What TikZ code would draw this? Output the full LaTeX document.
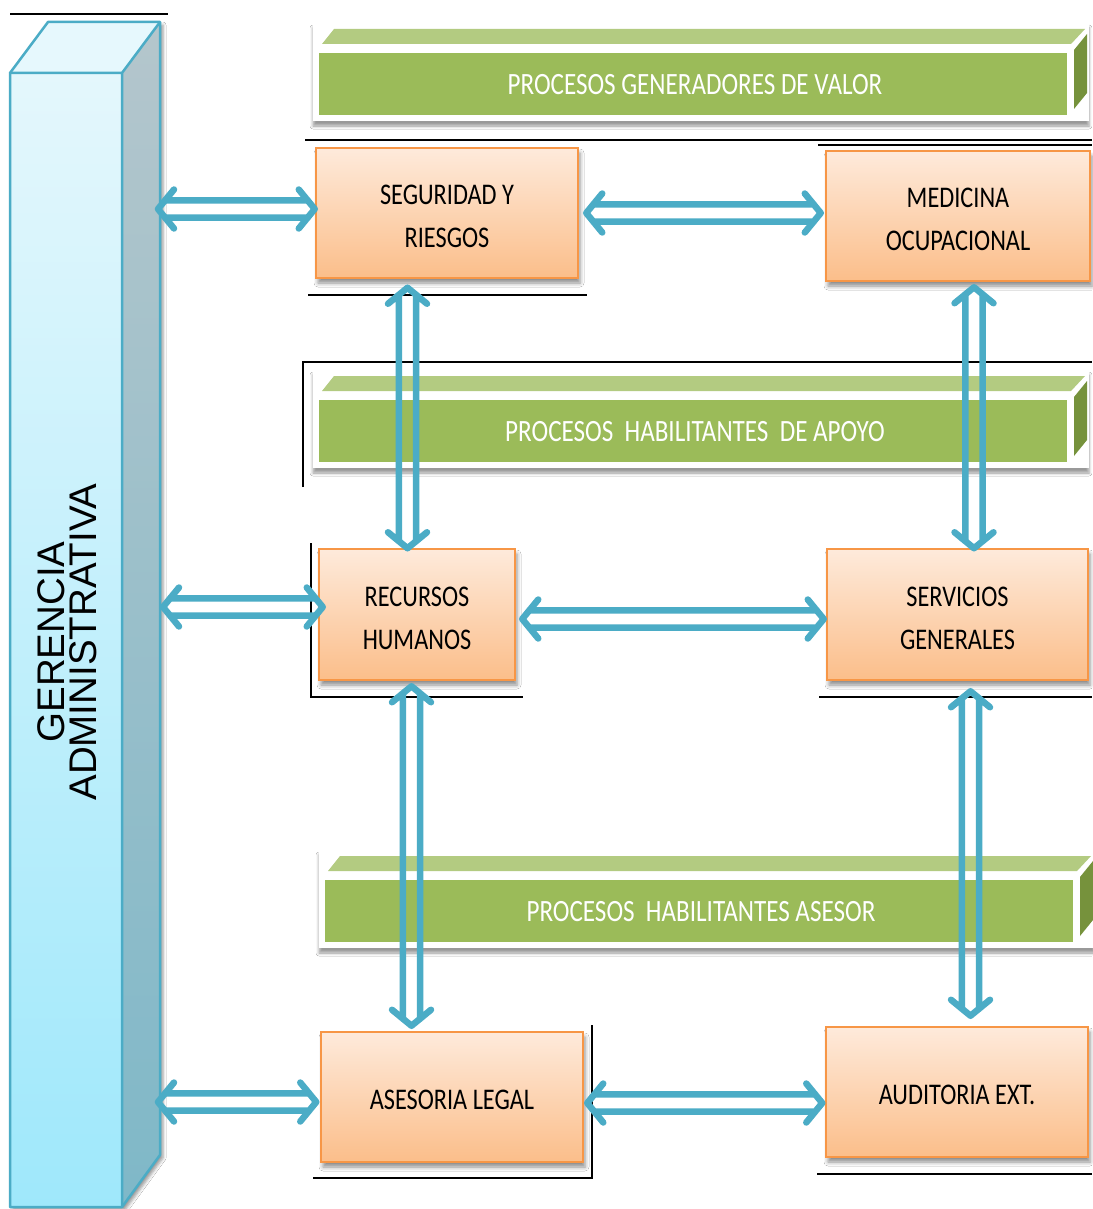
\documentclass[tikz,border=0pt]{standalone}
\usepackage{fontspec}
\setmainfont{Carlito}
\newfontfamily\arialf{Liberation Sans}
\usetikzlibrary{calc,shadows.blur}
\definecolor{arrowc}{HTML}{4BACC6}
\definecolor{obord}{HTML}{F79646}
\definecolor{otop}{HTML}{FEEADB}
\definecolor{obot}{HTML}{FBBE8A}
\definecolor{gfront}{HTML}{9BBB59}
\definecolor{gtopc}{HTML}{B3CB81}
\definecolor{gside}{HTML}{76923C}
\definecolor{cfronttop}{HTML}{E4F7FC}
\definecolor{cfrontbot}{HTML}{9FE8FB}
\definecolor{csidetop}{HTML}{B4C6CC}
\definecolor{csidebot}{HTML}{7FB8C8}
\definecolor{ctopface}{HTML}{E6F8FD}
\newcommand\cond[1]{\scalebox{0.81}[1]{#1}}
\tikzset{
  procbox/.style={rectangle, draw=obord, line width=2.5pt, top color=otop, bottom color=obot,
    align=center, font=\fontsize{30}{43}\selectfont, text=black, inner sep=0pt,
    blur shadow={shadow xshift=2pt, shadow yshift=-5pt, shadow blur radius=4pt, shadow opacity=45}},
  oneline/.style={text height=25pt},
  twoline/.style={text height=69.5pt},
  bannertext/.style={text=white, font=\fontsize{31}{37}\selectfont, inner sep=0pt},
  dblarr/.style={draw=arrowc, line width=6.5pt, line cap=round, line join=round},
  rulel/.style={black, line width=1.3pt},
  barline/.style={draw=arrowc, line width=2.5pt, line join=round}
}
\newcommand\harr[2]{\draw[dblarr] let \p1=(#1), \p2=(#2) in
  (\x1+16pt,\y1+19.5pt) -- (\x1,\y1) -- (\x1+16pt,\y1-19.5pt)
  (\x2-16pt,\y1+19.5pt) -- (\x2,\y1) -- (\x2-16pt,\y1-19.5pt)
  (\x1+7pt,\y1+8.7pt) -- (\x2-7pt,\y1+8.7pt)
  (\x1+7pt,\y1-8.7pt) -- (\x2-7pt,\y1-8.7pt);}
\newcommand\varr[2]{\draw[dblarr] let \p1=(#1), \p2=(#2) in
  (\x1-19.5pt,\y1-16pt) -- (\x1,\y1) -- (\x1+19.5pt,\y1-16pt)
  (\x1-19.5pt,\y2+16pt) -- (\x1,\y2) -- (\x1+19.5pt,\y2+16pt)
  (\x1-8.7pt,\y1-7pt) -- (\x1-8.7pt,\y2+7pt)
  (\x1+8.7pt,\y1-7pt) -- (\x1+8.7pt,\y2+7pt);}
\newcommand\banner[4]{%
  \fill[white, blur shadow={shadow xshift=0pt, shadow yshift=-5pt, shadow blur radius=3pt, shadow opacity=40}]
    (#1-6,#2-30) rectangle (#1+770,#2+68);
  \fill[gtopc] (#1+3,#2-9) -- (#1+15,#2-24) -- (#1+766,#2-24) -- (#1+752,#2-9) -- cycle;
  \fill[gfront] (#1,#2) rectangle (#1+748,#2+62);
  \fill[gside] (#1+755,#2-3) -- (#1+768,#2-19) -- (#1+768,#2+40) -- (#1+755,#2+56) -- cycle;
  \node[bannertext] (#4) at (#1+376,#2+32) {\cond{#3}};
}
\begin{document}
\begin{tikzpicture}[x=1pt,y=-1pt]
\fill[white] (0,0) rectangle (1092,1209);
\useasboundingbox (0,0) rectangle (1092,1209);

% thin black rules
\draw[rulel] (10,14) -- (168,14);
\draw[rulel] (305,140) -- (1092,140);
\draw[rulel] (818,145) -- (1092,145);
\draw[rulel] (308,295) -- (587,295);
\draw[rulel] (303,487) -- (303,362) -- (1092,362);
\draw[rulel] (311,543) -- (311,697) -- (523,697);
\draw[rulel] (819,697) -- (1092,697);
\draw[rulel] (592,1025) -- (592,1178) -- (313,1178);
\draw[rulel] (817,1174) -- (1092,1174);

% banners
\banner{319}{53}{PROCESOS GENERADORES DE VALOR}{b1}
\banner{319}{400}{PROCESOS\ \ HABILITANTES\ \ DE APOYO}{b2}
\banner{325}{880}{PROCESOS\ \ HABILITANTES ASESOR}{b3}

% gerencia bar
\fill[white, blur shadow={shadow xshift=3pt, shadow yshift=-3pt, shadow blur radius=3pt, shadow opacity=40}]
  (10,73) -- (48,22) -- (160,22) -- (160,1155) -- (122,1207) -- (10,1207) -- cycle;
\shade[top color=csidetop, bottom color=csidebot] (122,73) -- (160,22) -- (160,1155) -- (122,1207) -- cycle;
\shade[top color=cfronttop, bottom color=cfrontbot] (10,73) rectangle (122,1207);
\fill[ctopface] (10,73) -- (48,22) -- (160,22) -- (122,73) -- cycle;
\draw[barline] (10,73) -- (48,22) -- (160,22) -- (160,1155) -- (122,1207) -- (10,1207) -- cycle;
\draw[barline] (10,73) -- (122,73) -- (160,22) (122,73) -- (122,1207);
\node[rotate=90, align=center, font=\arialf\fontsize{38.5}{32}\selectfont] (ger) at (67.5,642) {GERENCIA\\ADMINISTRATIVA};
\coordinate (g1) at (158,209);
\coordinate (g2) at (163,607);
\coordinate (g3) at (158,1102);

% process boxes
\node[procbox, twoline, minimum width=262pt, minimum height=130pt] (seg) at (447,213) {\cond{SEGURIDAD Y}\\\cond{RIESGOS}};
\node[procbox, twoline, minimum width=264pt, minimum height=130pt] (med) at (958,216) {\cond{MEDICINA}\\\cond{OCUPACIONAL}};
\node[procbox, twoline, minimum width=196pt, minimum height=131pt] (rrhh) at (417,614.5) {\cond{RECURSOS}\\\cond{HUMANOS}};
\node[procbox, twoline, minimum width=261pt, minimum height=131pt] (serv) at (957.5,614.5) {\cond{SERVICIOS}\\\cond{GENERALES}};
\node[procbox, oneline, minimum width=262pt, minimum height=130pt] (ase) at (452,1097) {\cond{ASESORIA LEGAL}};
\node[procbox, oneline, minimum width=262pt, minimum height=130pt] (aud) at (957,1092) {\cond{AUDITORIA EXT.}};

% horizontal connectors
\harr{g1}{seg.west}
\harr{[xshift=7pt,yshift=0pt]seg.east}{[xshift=-4pt]med.west}
\harr{g2}{[xshift=5pt]rrhh.west}
\harr{[xshift=6pt,yshift=-4.5pt]rrhh.east}{[xshift=-2pt]serv.west}
\harr{g3}{[xshift=-3.5pt]ase.west}
\harr{[xshift=3pt,yshift=-6pt]ase.east}{[xshift=-2.5pt]aud.west}

% vertical connectors
\varr{[xshift=-39.5pt,yshift=-8.5pt]seg.south}{[yshift=-0.5pt]rrhh.north}
\varr{[xshift=16pt,yshift=-5pt]med.south}{[yshift=-0.5pt]serv.north}
\varr{[xshift=-5.5pt,yshift=-5pt]rrhh.south}{[yshift=5pt]ase.north}
\varr{[xshift=13pt,yshift=-10pt]serv.south}{[yshift=10pt]aud.north}
\end{tikzpicture}
\end{document}
